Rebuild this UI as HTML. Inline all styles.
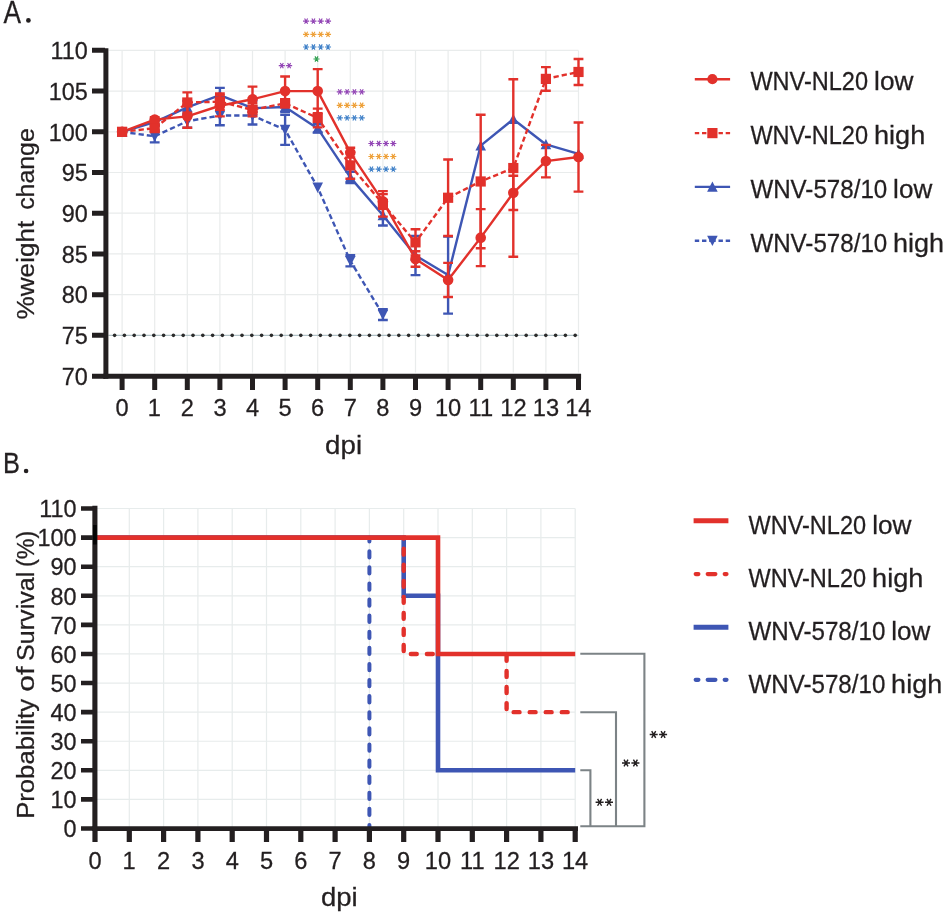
<!DOCTYPE html>
<html><head><meta charset="utf-8"><title>Figure</title>
<style>html,body{margin:0;padding:0;background:#fff;}svg{display:block;will-change:transform;}text{font-family:"Liberation Sans",sans-serif;stroke:#231f20;stroke-width:0.28px;}</style>
</head><body>
<svg width="950" height="917" viewBox="0 0 950 917" font-family="Liberation Sans, sans-serif">
<rect width="950" height="917" fill="#ffffff"/>
<g id="chartA">
<path d="M122.1 50.4V372.5M154.7 50.4V372.5M187.3 50.4V372.5M219.9 50.4V372.5M252.5 50.4V372.5M285.1 50.4V372.5M317.7 50.4V372.5M350.3 50.4V372.5M382.9 50.4V372.5M415.5 50.4V372.5M448.1 50.4V372.5M480.7 50.4V372.5M513.3 50.4V372.5M545.9 50.4V372.5M578.5 50.4V372.5M108.5 335.33H578.5M108.5 294.63H578.5M108.5 253.93H578.5M108.5 213.22H578.5M108.5 172.51H578.5M108.5 131.81H578.5M108.5 91.1H578.5M108.5 50.4H578.5" stroke="#e9ecec" stroke-width="1.2" fill="none"/>
<path d="M108.5 335.33H578.5" stroke="#a3b7bd" stroke-width="1" fill="none"/>
<g fill="#2b2b2b"><circle cx="114.6" cy="335.33" r="1.8"/><circle cx="124.4" cy="335.33" r="1.8"/><circle cx="134.2" cy="335.33" r="1.8"/><circle cx="144" cy="335.33" r="1.8"/><circle cx="153.8" cy="335.33" r="1.8"/><circle cx="163.6" cy="335.33" r="1.8"/><circle cx="173.4" cy="335.33" r="1.8"/><circle cx="183.2" cy="335.33" r="1.8"/><circle cx="193" cy="335.33" r="1.8"/><circle cx="202.8" cy="335.33" r="1.8"/><circle cx="212.6" cy="335.33" r="1.8"/><circle cx="222.4" cy="335.33" r="1.8"/><circle cx="232.2" cy="335.33" r="1.8"/><circle cx="242" cy="335.33" r="1.8"/><circle cx="251.8" cy="335.33" r="1.8"/><circle cx="261.6" cy="335.33" r="1.8"/><circle cx="271.4" cy="335.33" r="1.8"/><circle cx="281.2" cy="335.33" r="1.8"/><circle cx="291" cy="335.33" r="1.8"/><circle cx="300.8" cy="335.33" r="1.8"/><circle cx="310.6" cy="335.33" r="1.8"/><circle cx="320.4" cy="335.33" r="1.8"/><circle cx="330.2" cy="335.33" r="1.8"/><circle cx="340" cy="335.33" r="1.8"/><circle cx="349.8" cy="335.33" r="1.8"/><circle cx="359.6" cy="335.33" r="1.8"/><circle cx="369.4" cy="335.33" r="1.8"/><circle cx="379.2" cy="335.33" r="1.8"/><circle cx="389" cy="335.33" r="1.8"/><circle cx="398.8" cy="335.33" r="1.8"/><circle cx="408.6" cy="335.33" r="1.8"/><circle cx="418.4" cy="335.33" r="1.8"/><circle cx="428.2" cy="335.33" r="1.8"/><circle cx="438" cy="335.33" r="1.8"/><circle cx="447.8" cy="335.33" r="1.8"/><circle cx="457.6" cy="335.33" r="1.8"/><circle cx="467.4" cy="335.33" r="1.8"/><circle cx="477.2" cy="335.33" r="1.8"/><circle cx="487" cy="335.33" r="1.8"/><circle cx="496.8" cy="335.33" r="1.8"/><circle cx="506.6" cy="335.33" r="1.8"/><circle cx="516.4" cy="335.33" r="1.8"/><circle cx="526.2" cy="335.33" r="1.8"/><circle cx="536" cy="335.33" r="1.8"/><circle cx="545.8" cy="335.33" r="1.8"/><circle cx="555.6" cy="335.33" r="1.8"/><circle cx="565.4" cy="335.33" r="1.8"/><circle cx="575.2" cy="335.33" r="1.8"/></g>
<polyline points="122.1,131.81 154.7,136.29 187.3,121.23 219.9,115.53 252.5,115.53 285.1,129.77 317.7,187.49 350.3,260.84 382.9,314.66" fill="none" stroke="#3e56b4" stroke-width="2.4" stroke-dasharray="5.3 3" stroke-linejoin="round"/>
<path d="M154.7 130.18V142.39M149.8 130.18H159.6M149.8 142.39H159.6" stroke="#3e56b4" stroke-width="2.4" fill="none"/>
<path d="M187.3 114.71V127.74M182.4 114.71H192.2M182.4 127.74H192.2" stroke="#3e56b4" stroke-width="2.4" fill="none"/>
<path d="M219.9 105.76V125.3M215 105.76H224.8M215 125.3H224.8" stroke="#3e56b4" stroke-width="2.4" fill="none"/>
<path d="M252.5 106.57V124.48M247.6 106.57H257.4M247.6 124.48H257.4" stroke="#3e56b4" stroke-width="2.4" fill="none"/>
<path d="M285.1 114.71V144.84M280.2 114.71H290M280.2 144.84H290" stroke="#3e56b4" stroke-width="2.4" fill="none"/>
<path d="M350.3 255.31V266.38M345.4 255.31H355.2M345.4 266.38H355.2" stroke="#3e56b4" stroke-width="2.4" fill="none"/>
<path d="M382.9 309.28V320.03M378 309.28H387.8M378 320.03H387.8" stroke="#3e56b4" stroke-width="2.4" fill="none"/>
<path d="M122.1 137.21L127.4 126.91L116.8 126.91Z" fill="#3e56b4"/>
<path d="M154.7 141.69L160 131.39L149.4 131.39Z" fill="#3e56b4"/>
<path d="M187.3 126.63L192.6 116.33L182 116.33Z" fill="#3e56b4"/>
<path d="M219.9 120.93L225.2 110.63L214.6 110.63Z" fill="#3e56b4"/>
<path d="M252.5 120.93L257.8 110.63L247.2 110.63Z" fill="#3e56b4"/>
<path d="M285.1 135.17L290.4 124.87L279.8 124.87Z" fill="#3e56b4"/>
<path d="M317.7 192.89L323 182.59L312.4 182.59Z" fill="#3e56b4"/>
<path d="M350.3 266.24L355.6 255.94L345 255.94Z" fill="#3e56b4"/>
<path d="M382.9 320.06L388.2 309.76L377.6 309.76Z" fill="#3e56b4"/>
<polyline points="122.1,131.81 154.7,122.04 187.3,107.39 219.9,95.18 252.5,108.2 285.1,106.98 317.7,128.39 350.3,177.4 382.9,215.26 415.5,255.55 448.1,275.09 480.7,145.65 513.3,119.19 545.9,144.43 578.5,153.79" fill="none" stroke="#3e56b4" stroke-width="2.4" stroke-linejoin="round"/>
<path d="M154.7 119.6V124.48M149.8 119.6H159.6M149.8 124.48H159.6" stroke="#3e56b4" stroke-width="2.4" fill="none"/>
<path d="M187.3 100.87V113.9M182.4 100.87H192.2M182.4 113.9H192.2" stroke="#3e56b4" stroke-width="2.4" fill="none"/>
<path d="M219.9 87.85V102.5M215 87.85H224.8M215 102.5H224.8" stroke="#3e56b4" stroke-width="2.4" fill="none"/>
<path d="M252.5 100.87V115.53M247.6 100.87H257.4M247.6 115.53H257.4" stroke="#3e56b4" stroke-width="2.4" fill="none"/>
<path d="M285.1 102.1V111.86M280.2 102.1H290M280.2 111.86H290" stroke="#3e56b4" stroke-width="2.4" fill="none"/>
<path d="M317.7 124.32V132.46M312.8 124.32H322.6M312.8 132.46H322.6" stroke="#3e56b4" stroke-width="2.4" fill="none"/>
<path d="M350.3 171.7V183.1M345.4 171.7H355.2M345.4 183.1H355.2" stroke="#3e56b4" stroke-width="2.4" fill="none"/>
<path d="M382.9 205.08V225.43M378 205.08H387.8M378 225.43H387.8" stroke="#3e56b4" stroke-width="2.4" fill="none"/>
<path d="M415.5 236.01V275.09M410.6 236.01H420.4M410.6 275.09H420.4" stroke="#3e56b4" stroke-width="2.4" fill="none"/>
<path d="M448.1 236.58V313.6M443.2 236.58H453M443.2 313.6H453" stroke="#3e56b4" stroke-width="2.4" fill="none"/>
<path d="M122.1 126.41L127.4 136.71L116.8 136.71Z" fill="#3e56b4"/>
<path d="M154.7 116.64L160 126.94L149.4 126.94Z" fill="#3e56b4"/>
<path d="M187.3 101.99L192.6 112.29L182 112.29Z" fill="#3e56b4"/>
<path d="M219.9 89.78L225.2 100.08L214.6 100.08Z" fill="#3e56b4"/>
<path d="M252.5 102.8L257.8 113.1L247.2 113.1Z" fill="#3e56b4"/>
<path d="M285.1 101.58L290.4 111.88L279.8 111.88Z" fill="#3e56b4"/>
<path d="M317.7 122.99L323 133.29L312.4 133.29Z" fill="#3e56b4"/>
<path d="M350.3 172L355.6 182.3L345 182.3Z" fill="#3e56b4"/>
<path d="M382.9 209.86L388.2 220.16L377.6 220.16Z" fill="#3e56b4"/>
<path d="M415.5 250.15L420.8 260.45L410.2 260.45Z" fill="#3e56b4"/>
<path d="M448.1 269.69L453.4 279.99L442.8 279.99Z" fill="#3e56b4"/>
<path d="M480.7 140.25L486 150.55L475.4 150.55Z" fill="#3e56b4"/>
<path d="M513.3 113.79L518.6 124.09L508 124.09Z" fill="#3e56b4"/>
<path d="M545.9 139.03L551.2 149.33L540.6 149.33Z" fill="#3e56b4"/>
<path d="M578.5 148.39L583.8 158.69L573.2 158.69Z" fill="#3e56b4"/>
<polyline points="122.1,131.81 154.7,119.6 187.3,116.34 219.9,105.76 252.5,99.25 285.1,91.1 317.7,91.1 350.3,152.57 382.9,201.42 415.5,258.97 448.1,279.98 480.7,237.64 513.3,192.87 545.9,161.12 578.5,157.05" fill="none" stroke="#e2312b" stroke-width="2.4" stroke-linejoin="round"/>
<path d="M154.7 117.16V122.04M149.8 117.16H159.6M149.8 122.04H159.6" stroke="#e2312b" stroke-width="2.4" fill="none"/>
<path d="M187.3 104.94V127.74M182.4 104.94H192.2M182.4 127.74H192.2" stroke="#e2312b" stroke-width="2.4" fill="none"/>
<path d="M219.9 95.18V116.34M215 95.18H224.8M215 116.34H224.8" stroke="#e2312b" stroke-width="2.4" fill="none"/>
<path d="M252.5 86.63V111.86M247.6 86.63H257.4M247.6 111.86H257.4" stroke="#e2312b" stroke-width="2.4" fill="none"/>
<path d="M285.1 76.45V105.76M280.2 76.45H290M280.2 105.76H290" stroke="#e2312b" stroke-width="2.4" fill="none"/>
<path d="M317.7 69.12V113.09M312.8 69.12H322.6M312.8 113.09H322.6" stroke="#e2312b" stroke-width="2.4" fill="none"/>
<path d="M350.3 147.68V157.45M345.4 147.68H355.2M345.4 157.45H355.2" stroke="#e2312b" stroke-width="2.4" fill="none"/>
<path d="M382.9 194.09V208.74M378 194.09H387.8M378 208.74H387.8" stroke="#e2312b" stroke-width="2.4" fill="none"/>
<path d="M415.5 251.24V266.71M410.6 251.24H420.4M410.6 266.71H420.4" stroke="#e2312b" stroke-width="2.4" fill="none"/>
<path d="M448.1 262.88V297.07M443.2 262.88H453M443.2 297.07H453" stroke="#e2312b" stroke-width="2.4" fill="none"/>
<path d="M480.7 209.15V266.14M475.8 209.15H485.6M475.8 266.14H485.6" stroke="#e2312b" stroke-width="2.4" fill="none"/>
<path d="M513.3 175.77V209.96M508.4 175.77H518.2M508.4 209.96H518.2" stroke="#e2312b" stroke-width="2.4" fill="none"/>
<path d="M545.9 144.84V177.4M541 144.84H550.8M541 177.4H550.8" stroke="#e2312b" stroke-width="2.4" fill="none"/>
<path d="M578.5 122.45V191.65M573.6 122.45H583.4M573.6 191.65H583.4" stroke="#e2312b" stroke-width="2.4" fill="none"/>
<circle cx="122.1" cy="131.81" r="5.3" fill="#e2312b"/>
<circle cx="154.7" cy="119.6" r="5.3" fill="#e2312b"/>
<circle cx="187.3" cy="116.34" r="5.3" fill="#e2312b"/>
<circle cx="219.9" cy="105.76" r="5.3" fill="#e2312b"/>
<circle cx="252.5" cy="99.25" r="5.3" fill="#e2312b"/>
<circle cx="285.1" cy="91.1" r="5.3" fill="#e2312b"/>
<circle cx="317.7" cy="91.1" r="5.3" fill="#e2312b"/>
<circle cx="350.3" cy="152.57" r="5.3" fill="#e2312b"/>
<circle cx="382.9" cy="201.42" r="5.3" fill="#e2312b"/>
<circle cx="415.5" cy="258.97" r="5.3" fill="#e2312b"/>
<circle cx="448.1" cy="279.98" r="5.3" fill="#e2312b"/>
<circle cx="480.7" cy="237.64" r="5.3" fill="#e2312b"/>
<circle cx="513.3" cy="192.87" r="5.3" fill="#e2312b"/>
<circle cx="545.9" cy="161.12" r="5.3" fill="#e2312b"/>
<circle cx="578.5" cy="157.05" r="5.3" fill="#e2312b"/>
<polyline points="122.1,131.81 154.7,128.15 187.3,102.5 219.9,101.69 252.5,109.83 285.1,103.32 317.7,117.97 350.3,165.43 382.9,203.86 415.5,242.36 448.1,197.75 480.7,181.47 513.3,168.04 545.9,78.89 578.5,71.97" fill="none" stroke="#e2312b" stroke-width="2.4" stroke-dasharray="5.3 3" stroke-linejoin="round"/>
<path d="M154.7 124.89V131.4M149.8 124.89H159.6M149.8 131.4H159.6" stroke="#e2312b" stroke-width="2.4" fill="none"/>
<path d="M187.3 92.33V112.68M182.4 92.33H192.2M182.4 112.68H192.2" stroke="#e2312b" stroke-width="2.4" fill="none"/>
<path d="M219.9 93.55V109.83M215 93.55H224.8M215 109.83H224.8" stroke="#e2312b" stroke-width="2.4" fill="none"/>
<path d="M252.5 103.32V116.34M247.6 103.32H257.4M247.6 116.34H257.4" stroke="#e2312b" stroke-width="2.4" fill="none"/>
<path d="M285.1 99.25V107.39M280.2 99.25H290M280.2 107.39H290" stroke="#e2312b" stroke-width="2.4" fill="none"/>
<path d="M317.7 108.61V127.33M312.8 108.61H322.6M312.8 127.33H322.6" stroke="#e2312b" stroke-width="2.4" fill="none"/>
<path d="M350.3 152.16V178.7M345.4 152.16H355.2M345.4 178.7H355.2" stroke="#e2312b" stroke-width="2.4" fill="none"/>
<path d="M382.9 191.08V216.64M378 191.08H387.8M378 216.64H387.8" stroke="#e2312b" stroke-width="2.4" fill="none"/>
<path d="M415.5 229.18V255.55M410.6 229.18H420.4M410.6 255.55H420.4" stroke="#e2312b" stroke-width="2.4" fill="none"/>
<path d="M448.1 159.49V236.01M443.2 159.49H453M443.2 236.01H453" stroke="#e2312b" stroke-width="2.4" fill="none"/>
<path d="M480.7 114.71V248.23M475.8 114.71H485.6M475.8 248.23H485.6" stroke="#e2312b" stroke-width="2.4" fill="none"/>
<path d="M513.3 79.3V256.77M508.4 79.3H518.2M508.4 256.77H518.2" stroke="#e2312b" stroke-width="2.4" fill="none"/>
<path d="M545.9 67.09V90.7M541 67.09H550.8M541 90.7H550.8" stroke="#e2312b" stroke-width="2.4" fill="none"/>
<path d="M578.5 58.95V85M573.6 58.95H583.4M573.6 85H583.4" stroke="#e2312b" stroke-width="2.4" fill="none"/>
<rect x="117" y="126.71" width="10.2" height="10.2" fill="#e2312b"/>
<rect x="149.6" y="123.05" width="10.2" height="10.2" fill="#e2312b"/>
<rect x="182.2" y="97.4" width="10.2" height="10.2" fill="#e2312b"/>
<rect x="214.8" y="96.59" width="10.2" height="10.2" fill="#e2312b"/>
<rect x="247.4" y="104.73" width="10.2" height="10.2" fill="#e2312b"/>
<rect x="280" y="98.22" width="10.2" height="10.2" fill="#e2312b"/>
<rect x="312.6" y="112.87" width="10.2" height="10.2" fill="#e2312b"/>
<rect x="345.2" y="160.33" width="10.2" height="10.2" fill="#e2312b"/>
<rect x="377.8" y="198.76" width="10.2" height="10.2" fill="#e2312b"/>
<rect x="410.4" y="237.26" width="10.2" height="10.2" fill="#e2312b"/>
<rect x="443" y="192.65" width="10.2" height="10.2" fill="#e2312b"/>
<rect x="475.6" y="176.37" width="10.2" height="10.2" fill="#e2312b"/>
<rect x="508.2" y="162.94" width="10.2" height="10.2" fill="#e2312b"/>
<rect x="540.8" y="73.79" width="10.2" height="10.2" fill="#e2312b"/>
<rect x="573.4" y="66.87" width="10.2" height="10.2" fill="#e2312b"/>
<g stroke="#231f20" fill="none">
<path d="M105.9 48.2V378.7" stroke-width="5.0"/>
<path d="M103.4 376.25H581.1" stroke-width="4.9"/>
<path d="M92 335.33H105M92 294.63H105M92 253.93H105M92 213.22H105M92 172.51H105M92 131.81H105M92 91.1H105M92 50.3H105M92 376.25H105" stroke-width="5.0"/>
<path d="M122.1 376V389.9M154.7 376V389.9M187.3 376V389.9M219.9 376V389.9M252.5 376V389.9M285.1 376V389.9M317.7 376V389.9M350.3 376V389.9M382.9 376V389.9M415.5 376V389.9M448.1 376V389.9M480.7 376V389.9M513.3 376V389.9M545.9 376V389.9M578.5 376V389.9" stroke-width="5.0"/>
</g>
<text x="61.78" y="384.79" font-size="24.4" text-anchor="start" fill="#231f20" textLength="26.06" lengthAdjust="spacingAndGlyphs" >70</text>
<text x="61.84" y="344.08" font-size="24.4" text-anchor="start" fill="#231f20" textLength="26.06" lengthAdjust="spacingAndGlyphs" >75</text>
<text x="61.78" y="303.38" font-size="24.4" text-anchor="start" fill="#231f20" textLength="26.06" lengthAdjust="spacingAndGlyphs" >80</text>
<text x="61.84" y="262.68" font-size="24.4" text-anchor="start" fill="#231f20" textLength="26.06" lengthAdjust="spacingAndGlyphs" >85</text>
<text x="61.78" y="221.97" font-size="24.4" text-anchor="start" fill="#231f20" textLength="26.06" lengthAdjust="spacingAndGlyphs" >90</text>
<text x="61.84" y="181.26" font-size="24.4" text-anchor="start" fill="#231f20" textLength="26.06" lengthAdjust="spacingAndGlyphs" >95</text>
<text x="48.72" y="140.56" font-size="24.4" text-anchor="start" fill="#231f20" textLength="39.08" lengthAdjust="spacingAndGlyphs" >100</text>
<text x="48.78" y="99.85" font-size="24.4" text-anchor="start" fill="#231f20" textLength="39.08" lengthAdjust="spacingAndGlyphs" >105</text>
<text x="50.48" y="59.15" font-size="24.4" text-anchor="start" fill="#231f20" textLength="37.34" lengthAdjust="spacingAndGlyphs" >110</text>
<text x="115.5" y="416" font-size="24.4" text-anchor="start" fill="#231f20" textLength="13.16" lengthAdjust="spacingAndGlyphs" >0</text>
<text x="147.81" y="416" font-size="24.4" text-anchor="start" fill="#231f20" textLength="13.16" lengthAdjust="spacingAndGlyphs" >1</text>
<text x="180.73" y="416" font-size="24.4" text-anchor="start" fill="#231f20" textLength="13.16" lengthAdjust="spacingAndGlyphs" >2</text>
<text x="213.39" y="416" font-size="24.4" text-anchor="start" fill="#231f20" textLength="13.16" lengthAdjust="spacingAndGlyphs" >3</text>
<text x="245.99" y="416" font-size="24.4" text-anchor="start" fill="#231f20" textLength="13.16" lengthAdjust="spacingAndGlyphs" >4</text>
<text x="278.53" y="416" font-size="24.4" text-anchor="start" fill="#231f20" textLength="13.16" lengthAdjust="spacingAndGlyphs" >5</text>
<text x="311.04" y="416" font-size="24.4" text-anchor="start" fill="#231f20" textLength="13.16" lengthAdjust="spacingAndGlyphs" >6</text>
<text x="343.7" y="416" font-size="24.4" text-anchor="start" fill="#231f20" textLength="13.16" lengthAdjust="spacingAndGlyphs" >7</text>
<text x="376.33" y="416" font-size="24.4" text-anchor="start" fill="#231f20" textLength="13.16" lengthAdjust="spacingAndGlyphs" >8</text>
<text x="408.9" y="416" font-size="24.4" text-anchor="start" fill="#231f20" textLength="13.16" lengthAdjust="spacingAndGlyphs" >9</text>
<text x="434.92" y="416" font-size="24.4" text-anchor="start" fill="#231f20" textLength="26.33" lengthAdjust="spacingAndGlyphs" >10</text>
<text x="468.5" y="416" font-size="24.4" text-anchor="start" fill="#231f20" textLength="24.57" lengthAdjust="spacingAndGlyphs" >11</text>
<text x="500.27" y="416" font-size="24.4" text-anchor="start" fill="#231f20" textLength="26.33" lengthAdjust="spacingAndGlyphs" >12</text>
<text x="532.78" y="416" font-size="24.4" text-anchor="start" fill="#231f20" textLength="26.33" lengthAdjust="spacingAndGlyphs" >13</text>
<text x="565.2" y="416" font-size="24.4" text-anchor="start" fill="#231f20" textLength="26.33" lengthAdjust="spacingAndGlyphs" >14</text>
<text x="325.12" y="454.2" font-size="26" text-anchor="start" fill="#231f20" textLength="36.93" lengthAdjust="spacingAndGlyphs" >dpi</text>
<text transform="translate(34.2 319.41) rotate(-90)" font-size="24.4" text-anchor="start" fill="#231f20" textLength="98.61" lengthAdjust="spacingAndGlyphs">%weight</text>
<text transform="translate(34.2 209.86) rotate(-90)" font-size="24.4" text-anchor="start" fill="#231f20" textLength="81.64" lengthAdjust="spacingAndGlyphs">change</text>
<text x="3.43" y="22.7" font-size="30.8" text-anchor="start" fill="#231f20" textLength="17.52" lengthAdjust="spacingAndGlyphs" >A</text>
<circle cx="28.4" cy="20.4" r="2.35" fill="#231f20"/>
<path d="M303.05 21.1L309.15 21.1M304.58 18.46L307.62 23.74M307.62 18.46L304.58 23.74" stroke="#9245b5" stroke-width="1.15" fill="none"/><path d="M310.35 21.1L316.45 21.1M311.88 18.46L314.93 23.74M314.93 18.46L311.88 23.74" stroke="#9245b5" stroke-width="1.15" fill="none"/><path d="M317.65 21.1L323.75 21.1M319.18 18.46L322.23 23.74M322.23 18.46L319.18 23.74" stroke="#9245b5" stroke-width="1.15" fill="none"/><path d="M324.95 21.1L331.05 21.1M326.48 18.46L329.52 23.74M329.52 18.46L326.48 23.74" stroke="#9245b5" stroke-width="1.15" fill="none"/>
<path d="M303.05 34.4L309.15 34.4M304.58 31.76L307.62 37.04M307.62 31.76L304.58 37.04" stroke="#eea038" stroke-width="1.15" fill="none"/><path d="M310.35 34.4L316.45 34.4M311.88 31.76L314.93 37.04M314.93 31.76L311.88 37.04" stroke="#eea038" stroke-width="1.15" fill="none"/><path d="M317.65 34.4L323.75 34.4M319.18 31.76L322.23 37.04M322.23 31.76L319.18 37.04" stroke="#eea038" stroke-width="1.15" fill="none"/><path d="M324.95 34.4L331.05 34.4M326.48 31.76L329.52 37.04M329.52 31.76L326.48 37.04" stroke="#eea038" stroke-width="1.15" fill="none"/>
<path d="M303.05 47L309.15 47M304.58 44.36L307.62 49.64M307.62 44.36L304.58 49.64" stroke="#3f80c8" stroke-width="1.15" fill="none"/><path d="M310.35 47L316.45 47M311.88 44.36L314.93 49.64M314.93 44.36L311.88 49.64" stroke="#3f80c8" stroke-width="1.15" fill="none"/><path d="M317.65 47L323.75 47M319.18 44.36L322.23 49.64M322.23 44.36L319.18 49.64" stroke="#3f80c8" stroke-width="1.15" fill="none"/><path d="M324.95 47L331.05 47M326.48 44.36L329.52 49.64M329.52 44.36L326.48 49.64" stroke="#3f80c8" stroke-width="1.15" fill="none"/>
<path d="M313.45 59L319.55 59M314.98 56.36L318.02 61.64M318.02 56.36L314.98 61.64" stroke="#30a050" stroke-width="1.15" fill="none"/>
<path d="M278.75 65.6L284.85 65.6M280.28 62.96L283.32 68.24M283.32 62.96L280.28 68.24" stroke="#9245b5" stroke-width="1.15" fill="none"/><path d="M286.05 65.6L292.15 65.6M287.58 62.96L290.62 68.24M290.62 62.96L287.58 68.24" stroke="#9245b5" stroke-width="1.15" fill="none"/>
<path d="M336.75 91.9L342.85 91.9M338.28 89.26L341.32 94.54M341.32 89.26L338.28 94.54" stroke="#9245b5" stroke-width="1.15" fill="none"/><path d="M344.05 91.9L350.15 91.9M345.58 89.26L348.62 94.54M348.62 89.26L345.58 94.54" stroke="#9245b5" stroke-width="1.15" fill="none"/><path d="M351.35 91.9L357.45 91.9M352.88 89.26L355.93 94.54M355.93 89.26L352.88 94.54" stroke="#9245b5" stroke-width="1.15" fill="none"/><path d="M358.65 91.9L364.75 91.9M360.18 89.26L363.22 94.54M363.22 89.26L360.18 94.54" stroke="#9245b5" stroke-width="1.15" fill="none"/>
<path d="M336.75 105.3L342.85 105.3M338.28 102.66L341.32 107.94M341.32 102.66L338.28 107.94" stroke="#eea038" stroke-width="1.15" fill="none"/><path d="M344.05 105.3L350.15 105.3M345.58 102.66L348.62 107.94M348.62 102.66L345.58 107.94" stroke="#eea038" stroke-width="1.15" fill="none"/><path d="M351.35 105.3L357.45 105.3M352.88 102.66L355.93 107.94M355.93 102.66L352.88 107.94" stroke="#eea038" stroke-width="1.15" fill="none"/><path d="M358.65 105.3L364.75 105.3M360.18 102.66L363.22 107.94M363.22 102.66L360.18 107.94" stroke="#eea038" stroke-width="1.15" fill="none"/>
<path d="M336.75 117.9L342.85 117.9M338.28 115.26L341.32 120.54M341.32 115.26L338.28 120.54" stroke="#3f80c8" stroke-width="1.15" fill="none"/><path d="M344.05 117.9L350.15 117.9M345.58 115.26L348.62 120.54M348.62 115.26L345.58 120.54" stroke="#3f80c8" stroke-width="1.15" fill="none"/><path d="M351.35 117.9L357.45 117.9M352.88 115.26L355.93 120.54M355.93 115.26L352.88 120.54" stroke="#3f80c8" stroke-width="1.15" fill="none"/><path d="M358.65 117.9L364.75 117.9M360.18 115.26L363.22 120.54M363.22 115.26L360.18 120.54" stroke="#3f80c8" stroke-width="1.15" fill="none"/>
<path d="M368.35 143.5L374.45 143.5M369.88 140.86L372.92 146.14M372.92 140.86L369.88 146.14" stroke="#9245b5" stroke-width="1.15" fill="none"/><path d="M375.65 143.5L381.75 143.5M377.18 140.86L380.22 146.14M380.22 140.86L377.18 146.14" stroke="#9245b5" stroke-width="1.15" fill="none"/><path d="M382.95 143.5L389.05 143.5M384.48 140.86L387.52 146.14M387.52 140.86L384.48 146.14" stroke="#9245b5" stroke-width="1.15" fill="none"/><path d="M390.25 143.5L396.35 143.5M391.77 140.86L394.82 146.14M394.82 140.86L391.77 146.14" stroke="#9245b5" stroke-width="1.15" fill="none"/>
<path d="M368.35 156.5L374.45 156.5M369.88 153.86L372.92 159.14M372.92 153.86L369.88 159.14" stroke="#eea038" stroke-width="1.15" fill="none"/><path d="M375.65 156.5L381.75 156.5M377.18 153.86L380.22 159.14M380.22 153.86L377.18 159.14" stroke="#eea038" stroke-width="1.15" fill="none"/><path d="M382.95 156.5L389.05 156.5M384.48 153.86L387.52 159.14M387.52 153.86L384.48 159.14" stroke="#eea038" stroke-width="1.15" fill="none"/><path d="M390.25 156.5L396.35 156.5M391.77 153.86L394.82 159.14M394.82 153.86L391.77 159.14" stroke="#eea038" stroke-width="1.15" fill="none"/>
<path d="M368.35 169.1L374.45 169.1M369.88 166.46L372.92 171.74M372.92 166.46L369.88 171.74" stroke="#3f80c8" stroke-width="1.15" fill="none"/><path d="M375.65 169.1L381.75 169.1M377.18 166.46L380.22 171.74M380.22 166.46L377.18 171.74" stroke="#3f80c8" stroke-width="1.15" fill="none"/><path d="M382.95 169.1L389.05 169.1M384.48 166.46L387.52 171.74M387.52 166.46L384.48 171.74" stroke="#3f80c8" stroke-width="1.15" fill="none"/><path d="M390.25 169.1L396.35 169.1M391.77 166.46L394.82 171.74M394.82 166.46L391.77 171.74" stroke="#3f80c8" stroke-width="1.15" fill="none"/>
<path d="M694.8 79.2H730.1" stroke="#e2312b" stroke-width="2.4" fill="none"/><circle cx="712.4" cy="79.2" r="5.1" fill="#e2312b"/><text x="750.38" y="90.4" font-size="25.4" text-anchor="start" fill="#231f20" textLength="117.64" lengthAdjust="spacingAndGlyphs" >WNV-NL20</text><text x="874.13" y="90.4" font-size="25.4" text-anchor="start" fill="#231f20" textLength="39.32" lengthAdjust="spacingAndGlyphs" >low</text>
<path d="M694.8 133.1H712M730.1 133.1H713" stroke="#e2312b" stroke-width="2.4" stroke-dasharray="4.4 2.8" fill="none"/><rect x="707.3" y="128" width="10.2" height="10.2" fill="#e2312b"/><text x="750.38" y="143.8" font-size="25.4" text-anchor="start" fill="#231f20" textLength="117.64" lengthAdjust="spacingAndGlyphs" >WNV-NL20</text><text x="874" y="143.8" font-size="25.4" text-anchor="start" fill="#231f20" textLength="51.28" lengthAdjust="spacingAndGlyphs" >high</text>
<path d="M694.8 186.9H730.1" stroke="#3e56b4" stroke-width="2.4" fill="none"/><path d="M712.4 181.5L717.7 191.8L707.1 191.8Z" fill="#3e56b4"/><text x="750.38" y="197.8" font-size="25.4" text-anchor="start" fill="#231f20" textLength="136.88" lengthAdjust="spacingAndGlyphs" >WNV-578/10</text><text x="893.14" y="197.8" font-size="25.4" text-anchor="start" fill="#231f20" textLength="39.11" lengthAdjust="spacingAndGlyphs" >low</text>
<path d="M694.8 240.7H712M730.1 240.7H713" stroke="#3e56b4" stroke-width="2.4" stroke-dasharray="4.4 2.8" fill="none"/><path d="M712.4 246.1L717.7 235.8L707.1 235.8Z" fill="#3e56b4"/><text x="750.38" y="252" font-size="25.4" text-anchor="start" fill="#231f20" textLength="136.88" lengthAdjust="spacingAndGlyphs" >WNV-578/10</text><text x="893.01" y="252" font-size="25.4" text-anchor="start" fill="#231f20" textLength="51.07" lengthAdjust="spacingAndGlyphs" >high</text>
</g>
<g id="chartB">
<path d="M129.3 508.51V828.5M163.6 508.51V828.5M197.9 508.51V828.5M232.2 508.51V828.5M266.5 508.51V828.5M300.8 508.51V828.5M335.1 508.51V828.5M369.4 508.51V828.5M403.7 508.51V828.5M438 508.51V828.5M472.3 508.51V828.5M506.6 508.51V828.5M540.9 508.51V828.5M575.2 508.51V828.5M97 799.41H575.2M97 770.32H575.2M97 741.23H575.2M97 712.14H575.2M97 683.05H575.2M97 653.96H575.2M97 624.87H575.2M97 595.78H575.2M97 566.69H575.2M97 537.6H575.2M97 508.51H575.2" stroke="#e7ecec" stroke-width="1.2" fill="none"/>
<path d="M369.4 537.6V828.5" stroke="#3e56b4" stroke-width="4" stroke-dasharray="6.3 9.8" stroke-dashoffset="2.5" stroke-linecap="round" fill="none"/>
<path d="M95 537.6H403.7V595.78H438V770.32H575.2" stroke="#3e56b4" stroke-width="4.6" fill="none"/>
<path d="M403.7 537.6V653.96H438" stroke="#e2312b" stroke-width="4.4" stroke-dasharray="5.9 10.15" stroke-dashoffset="4.9" stroke-linecap="round" fill="none"/>
<path d="M506.6 653.96V712.14H575.2" stroke="#e2312b" stroke-width="4.4" stroke-dasharray="5.9 10.15" stroke-dashoffset="15.05" stroke-linecap="round" fill="none"/>
<path d="M95 537.6H438V653.96H575.2" stroke="#e2312b" stroke-width="4.6" fill="none" stroke-linejoin="miter"/>
<g stroke="#231f20" fill="none">
<path d="M94.9 505.7V831" stroke-width="5.1"/>
<path d="M92.3 828.55H578" stroke-width="4.8"/>
<path d="M81 828.5H94M81 799.41H94M81 770.32H94M81 741.23H94M81 712.14H94M81 683.05H94M81 653.96H94M81 624.87H94M81 595.78H94M81 566.69H94M81 537.6H94M81 508.51H94" stroke-width="4.6"/>
<path d="M95 829V842M129.3 829V842M163.6 829V842M197.9 829V842M232.2 829V842M266.5 829V842M300.8 829V842M335.1 829V842M369.4 829V842M403.7 829V842M438 829V842M472.3 829V842M506.6 829V842M540.9 829V842M575.2 829V842" stroke-width="5.2"/>
</g>
<rect x="93" y="525" width="3.8" height="19.5" fill="#050505"/>
<text x="63.58" y="837.25" font-size="24.4" text-anchor="start" fill="#231f20" textLength="13.03" lengthAdjust="spacingAndGlyphs" >0</text>
<text x="50.58" y="808.16" font-size="24.4" text-anchor="start" fill="#231f20" textLength="26.06" lengthAdjust="spacingAndGlyphs" >10</text>
<text x="50.58" y="779.07" font-size="24.4" text-anchor="start" fill="#231f20" textLength="26.06" lengthAdjust="spacingAndGlyphs" >20</text>
<text x="50.58" y="749.98" font-size="24.4" text-anchor="start" fill="#231f20" textLength="26.06" lengthAdjust="spacingAndGlyphs" >30</text>
<text x="50.58" y="720.89" font-size="24.4" text-anchor="start" fill="#231f20" textLength="26.06" lengthAdjust="spacingAndGlyphs" >40</text>
<text x="50.58" y="691.8" font-size="24.4" text-anchor="start" fill="#231f20" textLength="26.06" lengthAdjust="spacingAndGlyphs" >50</text>
<text x="50.58" y="662.71" font-size="24.4" text-anchor="start" fill="#231f20" textLength="26.06" lengthAdjust="spacingAndGlyphs" >60</text>
<text x="50.58" y="633.62" font-size="24.4" text-anchor="start" fill="#231f20" textLength="26.06" lengthAdjust="spacingAndGlyphs" >70</text>
<text x="50.58" y="604.53" font-size="24.4" text-anchor="start" fill="#231f20" textLength="26.06" lengthAdjust="spacingAndGlyphs" >80</text>
<text x="50.58" y="575.44" font-size="24.4" text-anchor="start" fill="#231f20" textLength="26.06" lengthAdjust="spacingAndGlyphs" >90</text>
<text x="37.52" y="546.35" font-size="24.4" text-anchor="start" fill="#231f20" textLength="39.08" lengthAdjust="spacingAndGlyphs" >100</text>
<text x="39.28" y="517.26" font-size="24.4" text-anchor="start" fill="#231f20" textLength="37.34" lengthAdjust="spacingAndGlyphs" >110</text>
<text x="88.4" y="868.9" font-size="24.4" text-anchor="start" fill="#231f20" textLength="13.16" lengthAdjust="spacingAndGlyphs" >0</text>
<text x="122.41" y="868.9" font-size="24.4" text-anchor="start" fill="#231f20" textLength="13.16" lengthAdjust="spacingAndGlyphs" >1</text>
<text x="157.03" y="868.9" font-size="24.4" text-anchor="start" fill="#231f20" textLength="13.16" lengthAdjust="spacingAndGlyphs" >2</text>
<text x="191.39" y="868.9" font-size="24.4" text-anchor="start" fill="#231f20" textLength="13.16" lengthAdjust="spacingAndGlyphs" >3</text>
<text x="225.69" y="868.9" font-size="24.4" text-anchor="start" fill="#231f20" textLength="13.16" lengthAdjust="spacingAndGlyphs" >4</text>
<text x="259.93" y="868.9" font-size="24.4" text-anchor="start" fill="#231f20" textLength="13.16" lengthAdjust="spacingAndGlyphs" >5</text>
<text x="294.14" y="868.9" font-size="24.4" text-anchor="start" fill="#231f20" textLength="13.16" lengthAdjust="spacingAndGlyphs" >6</text>
<text x="328.5" y="868.9" font-size="24.4" text-anchor="start" fill="#231f20" textLength="13.16" lengthAdjust="spacingAndGlyphs" >7</text>
<text x="362.83" y="868.9" font-size="24.4" text-anchor="start" fill="#231f20" textLength="13.16" lengthAdjust="spacingAndGlyphs" >8</text>
<text x="397.1" y="868.9" font-size="24.4" text-anchor="start" fill="#231f20" textLength="13.16" lengthAdjust="spacingAndGlyphs" >9</text>
<text x="424.82" y="868.9" font-size="24.4" text-anchor="start" fill="#231f20" textLength="26.33" lengthAdjust="spacingAndGlyphs" >10</text>
<text x="460.1" y="868.9" font-size="24.4" text-anchor="start" fill="#231f20" textLength="24.57" lengthAdjust="spacingAndGlyphs" >11</text>
<text x="493.57" y="868.9" font-size="24.4" text-anchor="start" fill="#231f20" textLength="26.33" lengthAdjust="spacingAndGlyphs" >12</text>
<text x="527.78" y="868.9" font-size="24.4" text-anchor="start" fill="#231f20" textLength="26.33" lengthAdjust="spacingAndGlyphs" >13</text>
<text x="561.9" y="868.9" font-size="24.4" text-anchor="start" fill="#231f20" textLength="26.33" lengthAdjust="spacingAndGlyphs" >14</text>
<text x="320.93" y="906.4" font-size="26" text-anchor="start" fill="#231f20" textLength="36.71" lengthAdjust="spacingAndGlyphs" >dpi</text>
<text transform="translate(34.2 818.82) rotate(-90)" font-size="24.4" text-anchor="start" fill="#231f20" textLength="119.86" lengthAdjust="spacingAndGlyphs">Probability</text>
<text transform="translate(34.2 691.79) rotate(-90)" font-size="24.4" text-anchor="start" fill="#231f20" textLength="25.26" lengthAdjust="spacingAndGlyphs">of</text>
<text transform="translate(34.2 660.93) rotate(-90)" font-size="24.4" text-anchor="start" fill="#231f20" textLength="89.2" lengthAdjust="spacingAndGlyphs">Survival</text>
<text transform="translate(34.2 566.96) rotate(-90)" font-size="24.4" text-anchor="start" fill="#231f20" textLength="36.22" lengthAdjust="spacingAndGlyphs">(%)</text>
<text x="3.11" y="473.1" font-size="29.8" text-anchor="start" fill="#231f20" textLength="16.91" lengthAdjust="spacingAndGlyphs" >B</text>
<circle cx="26.1" cy="471" r="2.3" fill="#231f20"/>
<path d="M580.3 653.7H644.4V826.3H580.3M580.3 712.2H616V826.3M580.3 770.2H590.4V826.3" stroke="#7c8386" stroke-width="2.1" fill="none"/>
<path d="M649.7 734.5L657.7 734.5M651.7 731.04L655.7 737.96M655.7 731.04L651.7 737.96" stroke="#231f20" stroke-width="1.4" fill="none"/><path d="M659.1 734.5L667.1 734.5M661.1 731.04L665.1 737.96M665.1 731.04L661.1 737.96" stroke="#231f20" stroke-width="1.4" fill="none"/>
<path d="M622 763L630 763M624 759.54L628 766.46M628 759.54L624 766.46" stroke="#231f20" stroke-width="1.4" fill="none"/><path d="M631.4 763L639.4 763M633.4 759.54L637.4 766.46M637.4 759.54L633.4 766.46" stroke="#231f20" stroke-width="1.4" fill="none"/>
<path d="M595.6 802.3L603.6 802.3M597.6 798.84L601.6 805.76M601.6 798.84L597.6 805.76" stroke="#231f20" stroke-width="1.4" fill="none"/><path d="M605 802.3L613 802.3M607 798.84L611 805.76M611 798.84L607 805.76" stroke="#231f20" stroke-width="1.4" fill="none"/>
<path d="M693.6 520.7H728.4" stroke="#e2312b" stroke-width="5" fill="none"/><text x="748.48" y="534.4" font-size="25.4" text-anchor="start" fill="#231f20" textLength="117.64" lengthAdjust="spacingAndGlyphs" >WNV-NL20</text><text x="872.23" y="534.4" font-size="25.4" text-anchor="start" fill="#231f20" textLength="39.32" lengthAdjust="spacingAndGlyphs" >low</text>
<rect x="693.6" y="572" width="6.9" height="4.2" rx="2.1" fill="#e2312b"/><rect x="705.6" y="572" width="11.9" height="4.2" rx="2.1" fill="#e2312b"/><rect x="722.6" y="572" width="6" height="4.2" rx="2.1" fill="#e2312b"/><text x="748.48" y="586.9" font-size="25.4" text-anchor="start" fill="#231f20" textLength="117.64" lengthAdjust="spacingAndGlyphs" >WNV-NL20</text><text x="872.1" y="586.9" font-size="25.4" text-anchor="start" fill="#231f20" textLength="51.28" lengthAdjust="spacingAndGlyphs" >high</text>
<path d="M693.6 627.3H728.4" stroke="#3e56b4" stroke-width="5" fill="none"/><text x="748.48" y="640" font-size="25.4" text-anchor="start" fill="#231f20" textLength="136.88" lengthAdjust="spacingAndGlyphs" >WNV-578/10</text><text x="891.24" y="640" font-size="25.4" text-anchor="start" fill="#231f20" textLength="39.11" lengthAdjust="spacingAndGlyphs" >low</text>
<rect x="693.6" y="677.7" width="6.9" height="4.2" rx="2.1" fill="#3e56b4"/><rect x="705.6" y="677.7" width="11.9" height="4.2" rx="2.1" fill="#3e56b4"/><rect x="722.6" y="677.7" width="6" height="4.2" rx="2.1" fill="#3e56b4"/><text x="748.48" y="692.5" font-size="25.4" text-anchor="start" fill="#231f20" textLength="136.88" lengthAdjust="spacingAndGlyphs" >WNV-578/10</text><text x="891.11" y="692.5" font-size="25.4" text-anchor="start" fill="#231f20" textLength="51.07" lengthAdjust="spacingAndGlyphs" >high</text>
</g>
</svg></body></html>
